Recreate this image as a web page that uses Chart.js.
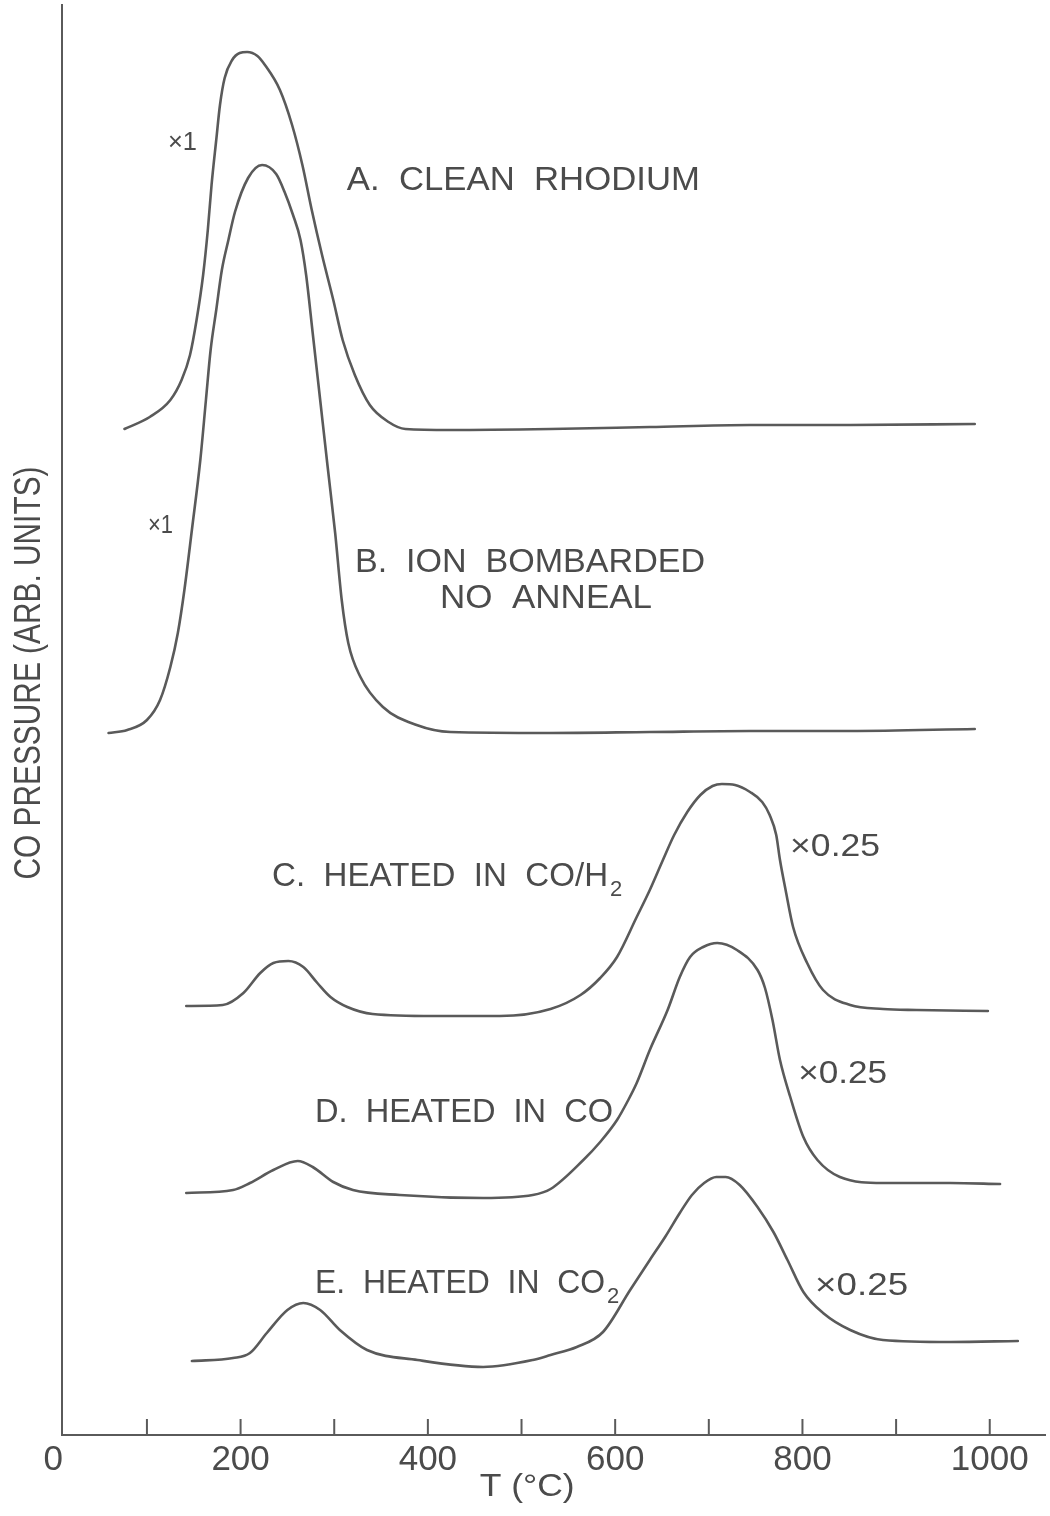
<!DOCTYPE html>
<html>
<head>
<meta charset="utf-8">
<title>CO desorption from rhodium</title>
<script src="https://cdn.jsdelivr.net/npm/chart.js"></script>
<style>
  html, body { margin: 0; padding: 0; background: #fff; }
  #wrap { width: 1050px; height: 1516px; position: relative; }
</style>
</head>
<body>
<div id="wrap"><canvas id="tpd"></canvas></div>
<script>
// Temperature (°C) and CO pressure (arb. units, traces offset vertically)
const tempA = [76, 103, 125, 137, 146, 153, 160, 165, 169, 174, 178, 183, 191, 199, 207, 218, 226, 242, 255, 266, 276, 287, 299, 309, 322, 338, 358, 376, 424, 531, 637, 744, 851, 984];
const presA = [100.6, 101.8, 103.5, 105.5, 108.0, 111.5, 116.0, 120.5, 125.0, 129.5, 133.0, 135.7, 137.5, 138.2, 138.3, 137.9, 137.0, 134.5, 131.0, 127.0, 122.5, 118.0, 113.5, 109.5, 106.0, 103.0, 101.3, 100.6, 100.5, 100.6, 100.8, 101.0, 101.0, 101.1];

const tempB = [59, 79, 100, 114, 125, 133, 140, 148, 157, 163, 168, 174, 180, 187, 194, 208, 223, 238, 247, 256, 264, 270, 277, 285, 293, 301, 308, 315, 328, 352, 388, 424, 530, 637, 744, 851, 984];
const presB = [70.2, 70.5, 71.5, 73.5, 76.8, 80.2, 84.5, 90.5, 97.5, 103.5, 108.5, 112.5, 116.5, 119.5, 122.3, 125.7, 127.0, 126.1, 124.3, 122.0, 119.5, 116.0, 110.2, 103.5, 96.8, 90.2, 83.5, 79.2, 75.8, 72.8, 71.0, 70.3, 70.2, 70.3, 70.4, 70.4, 70.6];

const tempC = [142, 181, 203, 221, 235, 251, 267, 282, 296, 314, 341, 406, 477, 531, 563, 584, 602, 623, 637, 651, 663, 677, 691, 704, 714, 728, 744, 757, 765, 772, 776, 782, 790, 805, 822, 851, 886, 922, 998];
const presC = [42.9, 43.0, 44.2, 46.2, 47.2, 47.4, 46.8, 45.2, 43.8, 42.8, 42.1, 41.9, 41.9, 42.6, 44.0, 45.7, 47.8, 51.8, 54.5, 57.5, 60.0, 62.3, 64.0, 64.9, 65.1, 65.0, 64.3, 63.3, 62.0, 60.0, 57.5, 54.5, 50.8, 47.2, 44.5, 43.0, 42.6, 42.5, 42.4];

const tempD = [142, 192, 210, 235, 261, 277, 299, 320, 370, 459, 512, 531, 566, 584, 602, 614, 623, 637, 656, 669, 680, 694, 709, 730, 752, 760, 768, 776, 787, 801, 816, 840, 886, 958, 1011];
const presD = [24.2, 24.5, 25.2, 26.5, 27.4, 26.8, 25.3, 24.5, 24.0, 23.7, 24.0, 24.6, 27.5, 29.3, 31.5, 33.5, 35.2, 38.5, 42.5, 45.8, 47.8, 48.8, 49.2, 48.5, 46.5, 44.7, 41.5, 37.5, 33.8, 29.8, 27.5, 25.8, 25.2, 25.2, 25.1];

const tempE = [148, 192, 210, 228, 250, 267, 285, 306, 335, 389, 459, 512, 531, 559, 587, 616, 637, 654, 669, 682, 695, 708, 718, 733, 752, 769, 784, 801, 822, 851, 886, 958, 1030];
const presE = [7.4, 7.7, 8.2, 10.2, 12.5, 13.2, 12.5, 10.5, 8.5, 7.5, 6.8, 7.5, 8.0, 8.8, 10.3, 14.5, 17.5, 19.9, 22.2, 24.0, 25.2, 25.8, 25.8, 25.0, 22.8, 20.3, 17.5, 14.3, 12.2, 10.5, 9.5, 9.3, 9.4];

const xTicks = [0, 100, 200, 300, 400, 500, 600, 700, 800, 900, 1000];
const xLabelStep = 200;

const INK = '#4b4b4b';
const TRACE = '#5a5a5a';
const FONT = "'Liberation Sans', Arial, sans-serif";
const NARROW = "'Liberation Sans Narrow', 'Liberation Sans', Arial, sans-serif";

// Curve annotations, anchored in data coordinates
const notes = [
    { text: 'A.  CLEAN  RHODIUM', t: 313.5, p: 125.65, size: 33, width: 353 },
    { text: '×1', t: 122.5, p: 129.4, size: 25, width: 29 },
    { text: 'B.  ION  BOMBARDED', t: 322.2, p: 87.45, size: 33, width: 350 },
    { text: 'NO  ANNEAL', t: 413, p: 83.9, size: 33, width: 212 },
    { text: '×1', t: 101.2, p: 91.1, size: 25, width: 25 },
    { text: 'C.  HEATED  IN  CO/H', sub: '2', t: 233.6, p: 56.1, size: 33, width: 336 },
    { text: 'D.  HEATED  IN  CO', t: 279.5, p: 32.5, size: 33, width: 298 },
    { text: 'E.  HEATED  IN  CO', sub: '2', t: 279.5, p: 15.4, size: 33, width: 290 },
    { text: '×0.25', t: 786.8, p: 59.0, size: 32, width: 90 },
    { text: '×0.25', t: 795.4, p: 36.3, size: 32, width: 89 },
    { text: '×0.25', t: 813.5, p: 15.1, size: 32, width: 93 }
];

function toPoints(temps, pressures) {
    return temps.map((t, i) => ({ x: t, y: pressures[i] }));
}

// Draws text with its cap height centred on y, stretched to a given width
function drawFitted(ctx, text, x, y, size, width, family, align) {
    ctx.font = `${size}px ${family}`;
    const w = ctx.measureText(text).width;
    const sx = width ? width / w : 1;
    ctx.save();
    ctx.translate(x, y + size * 0.358);
    ctx.scale(sx, 1);
    ctx.textAlign = align || 'left';
    ctx.textBaseline = 'alphabetic';
    ctx.fillText(text, 0, 0);
    ctx.restore();
    return w * sx;
}

const decorations = {
    id: 'decorations',
    afterDraw(chart) {
        const { ctx, chartArea, scales } = chart;
        const x = scales.x, y = scales.y;
        ctx.save();

        // short upward ticks on the temperature axis
        ctx.strokeStyle = TRACE;
        ctx.lineWidth = 2;
        xTicks.forEach(v => {
            if (v <= x.min) return;
            const px = x.getPixelForValue(v);
            ctx.beginPath();
            ctx.moveTo(px, chartArea.bottom);
            ctx.lineTo(px, chartArea.bottom - 16);
            ctx.stroke();
        });

        ctx.fillStyle = INK;
        notes.forEach(n => {
            const px = x.getPixelForValue(n.t);
            const py = y.getPixelForValue(n.p);
            const w = drawFitted(ctx, n.text, px, py, n.size, n.width, FONT);
            if (n.sub) {
                drawFitted(ctx, n.sub, px + w + 2, py + n.size * 0.42, Math.round(n.size * 0.68), null, FONT);
            }
        });

        // axis titles
        drawFitted(ctx, 'T (°C)', x.getPixelForValue(506), chartArea.bottom + 50, 32, 95, NARROW, 'center');
        ctx.save();
        ctx.translate(chartArea.left - 35, y.getPixelForValue(76.2));
        ctx.rotate(-Math.PI / 2);
        drawFitted(ctx, 'CO PRESSURE (ARB. UNITS)', 0, 0, 36, 413, NARROW, 'center');
        ctx.restore();

        ctx.restore();
    }
};

function trace(label, temps, pressures) {
    return {
        label: label,
        data: toPoints(temps, pressures),
        borderColor: TRACE,
        borderWidth: 2.6,
        pointRadius: 0,
        fill: false,
        cubicInterpolationMode: 'monotone',
        borderCapStyle: 'round',
        borderJoinStyle: 'round'
    };
}

new Chart(document.getElementById('tpd'), {
    type: 'line',
    data: {
        datasets: [
            trace('A. Clean rhodium', tempA, presA),
            trace('B. Ion bombarded, no anneal', tempB, presB),
            trace('C. Heated in CO/H2', tempC, presC),
            trace('D. Heated in CO', tempD, presD),
            trace('E. Heated in CO2', tempE, presE)
        ]
    },
    options: {
        responsive: true,
        maintainAspectRatio: false,
        animation: false,
        layout: { padding: { top: 5, right: 5, left: 0, bottom: 0 } },
        plugins: {
            legend: { display: false },
            tooltip: { enabled: false }
        },
        scales: {
            x: {
                type: 'linear',
                min: 9.3,
                max: 1059,
                grid: { display: false, drawTicks: false },
                border: { display: true, color: TRACE, width: 2 },
                afterBuildTicks(scale) {
                    scale.ticks = xTicks.map(v => ({ value: v }));
                },
                afterFit(scale) {
                    scale.height = 81;
                },
                ticks: {
                    autoSkip: false,
                    maxRotation: 0,
                    padding: 4,
                    color: INK,
                    font: { family: NARROW, size: 35 },
                    callback: v => (v % xLabelStep === 0 ? String(v) : '')
                }
            },
            y: {
                type: 'linear',
                min: 0,
                max: 143,
                grid: { display: false, drawTicks: false },
                border: { display: true, color: TRACE, width: 2 },
                ticks: { display: false },
                afterFit(scale) {
                    scale.width = 62;
                }
            }
        }
    },
    plugins: [decorations]
});
</script>
</body>
</html>
